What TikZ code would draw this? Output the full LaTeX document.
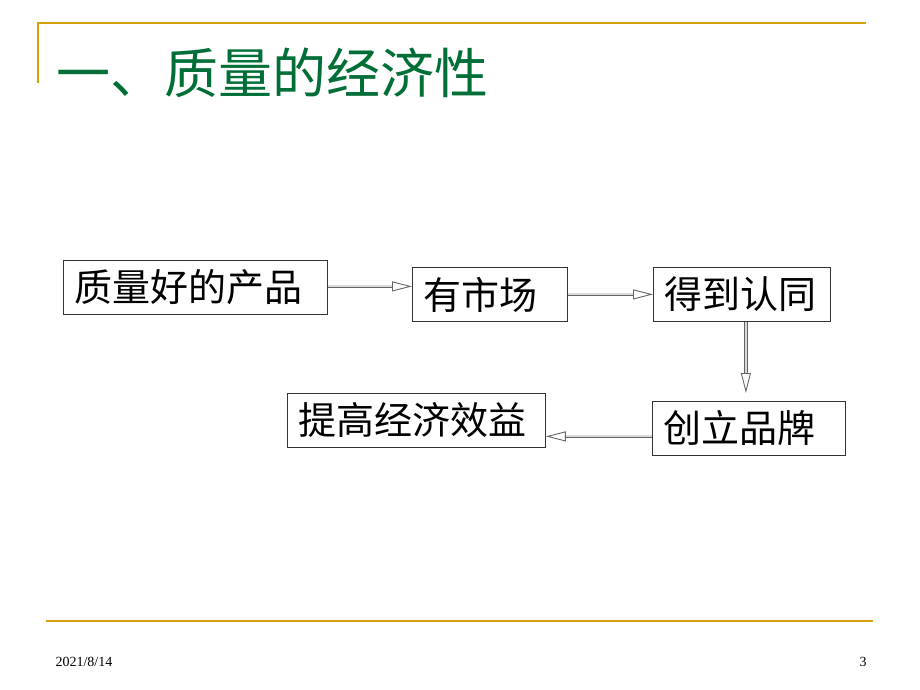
\documentclass[tikz,border=0pt]{standalone}
\usepackage{fontspec}
\setmainfont{Liberation Serif}
\newfontfamily\cjk{Noto Sans CJK SC}
\usetikzlibrary{arrows.meta, positioning}

\definecolor{rulegold}{RGB}{214,160,10}
\definecolor{titlegreen}{RGB}{0,110,55}
\definecolor{arrowgray}{RGB}{100,100,100}

\begin{document}
\begin{tikzpicture}[
    x=1pt, y=-1pt,
    rule/.style={
        rulegold,
        line width=2pt,
    },
    box/.style={
        draw=black!80,
        line width=0.8pt,
        anchor=north west,
        minimum height=54pt,
        inner xsep=11pt,
        align=left,
        font=\cjk\fontsize{38}{40}\selectfont,
    },
    flow/.style={
        draw=arrowgray,
        line width=0.9pt,
        double=black!15,
        double distance=2pt,
        -{Triangle[open, length=20pt, width=10pt]},
    },
    footer/.style={
        font=\fontsize{14}{16}\selectfont,
        anchor=west,
    }
]
    \useasboundingbox (0,0) rectangle (920,690);

    % Frame rules
    \draw[rule] (38,83) -- (38,23) -- (866,23);
    \draw[rule] (46,621) -- (873,621);

    % Title
    \node[anchor=west, text=titlegreen, font=\cjk\fontsize{54}{58}\selectfont,
          inner sep=0pt] (title) at (56,73) {一、质量的经济性};

    % Boxes
    \node[box, text width=242pt] (goods) at (63,260) {质量好的产品};
    \node[box, text width=133pt] (market) at (412,267) {有市场};
    \node[box, text width=155pt] (accept) at (653,267) {得到认同};
    \node[box, text width=171pt] (brand) at (652,401) {创立品牌};
    \node[box, text width=236pt] (benefit) at (287,393) {提高经济效益};

    % Arrows
    \draw[flow] ([yshift=1pt]goods.east) -- ([yshift=1pt]goods.east -| market.west);
    \draw[flow] (market.east) -- (accept.west);
    \draw[flow] ([xshift=4pt]accept.south) -- ([xshift=4pt, yshift=8pt]accept.south |- brand.north);
    \draw[flow] ([yshift=-8pt]brand.west) -- ([yshift=-8pt]brand.west -| benefit.east);

    % Footer
    \node[footer] (date) at (52,662) {2021/8/14};
    \node[footer] (page) at (856,662) {3};
\end{tikzpicture}
\end{document}
